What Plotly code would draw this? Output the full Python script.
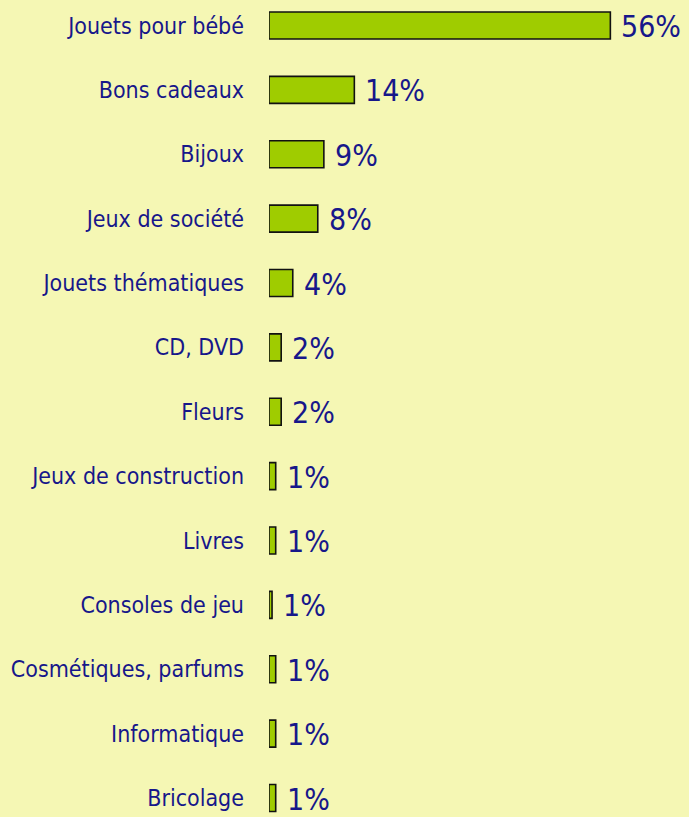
import plotly.graph_objects as go

categories = [
    "Jouets pour bébé", "Bons cadeaux", "Bijoux", "Jeux de société",
    "Jouets thématiques", "CD, DVD", "Fleurs", "Jeux de construction",
    "Livres", "Consoles de jeu", "Cosmétiques, parfums", "Informatique",
    "Bricolage",
]
values = [56, 14, 9, 8, 3.9, 2, 2, 1.1, 1.1, 0.5, 1.1, 1.1, 1.1]
labels = ["56%", "14%", "9%", "8%", "4%", "2%", "2%", "1%", "1%", "1%", "1%", "1%", "1%"]

BG = "#F5F7B4"
NAVY = "#17178A"
FONT = "DejaVu Sans Condensed, Liberation Sans Narrow, sans-serif"

fig = go.Figure(go.Bar(
    x=values, y=categories, orientation="h",
    width=0.42,
    marker=dict(color="#9FCC00", line=dict(color="#111111", width=1.6)),
    hoverinfo="skip",
))

for c, v, t in zip(categories, values, labels):
    fig.add_annotation(x=v, y=c, text=t, showarrow=False, xanchor="left",
                       xshift=9, yshift=-1,
                       font=dict(family=FONT, size=30, color=NAVY))

fig.update_layout(
    width=689, height=817,
    margin=dict(l=269, r=0, t=0, b=0, autoexpand=False),
    paper_bgcolor=BG, plot_bgcolor=BG,
    showlegend=False,
    xaxis=dict(range=[0, 68.9], visible=False, fixedrange=True),
    yaxis=dict(type="category", categoryorder="array", categoryarray=categories,
               range=[12.295, -0.396], showgrid=False, zeroline=False,
               showline=False, ticks="", ticklabelstandoff=24, automargin=False,
               fixedrange=True,
               tickfont=dict(family=FONT, size=23, color=NAVY)),
)

fig.write_html("out.html", config={"displayModeBar": False},
               post_script="document.body.style.margin='0';document.body.style.background='%s';" % BG)
